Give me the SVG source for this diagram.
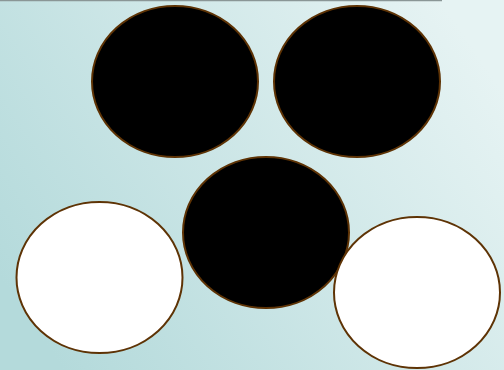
<svg xmlns="http://www.w3.org/2000/svg" width="504" height="370" viewBox="0 0 504 370">
<defs>
<linearGradient id="bg" x1="0" y1="0.75" x2="1" y2="0.25">
<stop offset="0" stop-color="#b4dadb"/>
<stop offset="1" stop-color="#e6f3f3"/>
</linearGradient>
<style>
.e{stroke:#5e3305;stroke-width:2}
.b{fill:#000}
.w{fill:#fff}
</style>
</defs>
<rect width="504" height="370" fill="url(#bg)"/>
<line x1="0" y1="0.5" x2="442" y2="0.5" stroke="#8a9696" stroke-width="1.5"/>
<g id="n1"><ellipse class="e b" cx="175" cy="81.5" rx="83" ry="75.5"/></g>
<g id="n2"><ellipse class="e b" cx="357" cy="81.5" rx="83" ry="75.5"/></g>
<g id="n3"><ellipse class="e b" cx="266" cy="232.5" rx="83" ry="75.5"/></g>
<g id="n4"><ellipse class="e w" cx="99.5" cy="277.5" rx="83" ry="75.5"/></g>
<g id="n5"><ellipse class="e w" cx="417" cy="292.5" rx="83" ry="75.5"/></g>
<g id="connectors"></g>
</svg>
